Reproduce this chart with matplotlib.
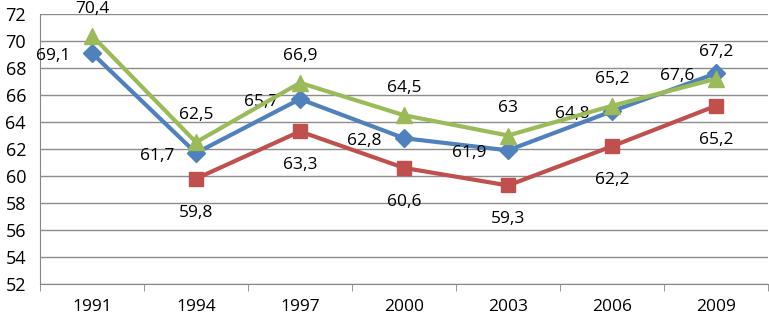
import numpy as np
import matplotlib.pyplot as plt

years = ['1991', '1994', '1997', '2000', '2003', '2006', '2009']
blue_vals = [69.1, 61.7, 65.7, 62.8, 61.9, 64.8, 67.6]
red_vals = [np.nan, 59.8, 63.3, 60.6, 59.3, 62.2, 65.2]
green_vals = [70.4, 62.5, 66.9, 64.5, 63.0, 65.2, 67.2]

plt.rcParams['font.family'] = ['Open Sans', 'DejaVu Sans']


def fmt(v):
    s = ('%.1f' % v).replace('.', ',')
    if s.endswith(',0'):
        s = s[:-2]
    return s


fig = plt.figure(figsize=(7.69, 3.17), dpi=100)
ax = fig.add_axes([40/769, 1-284/317, 728/769, 270/317])

x = np.arange(len(years))
ax.plot(x, blue_vals, color='#4F81BD', lw=3, marker='D', ms=9.5, zorder=3)
ax.plot(x, red_vals, color='#C0504D', lw=3, marker='s', ms=10.5, zorder=3)
ax.plot(x, green_vals, color='#9BBB59', lw=3, marker='^', ms=12, zorder=4)

fs = 12.5
for i in range(len(years)):
    ax.annotate(fmt(blue_vals[i]), (x[i], blue_vals[i]), xytext=(-22, -3),
                textcoords='offset pixels', ha='right', va='center',
                fontsize=fs, annotation_clip=False)
    ax.annotate(fmt(green_vals[i]), (x[i], green_vals[i]), xytext=(0, 19),
                textcoords='offset pixels', ha='center', va='bottom',
                fontsize=fs, annotation_clip=False)
    if not np.isnan(red_vals[i]):
        ax.annotate(fmt(red_vals[i]), (x[i], red_vals[i]), xytext=(0, -26),
                    textcoords='offset pixels', ha='center', va='top',
                    fontsize=fs, annotation_clip=False)

ax.set_xlim(-0.5, len(years) - 0.5)
ax.set_ylim(52, 72)
ax.set_yticks(np.arange(52, 73, 2))
ax.set_xticks(x)
ax.set_xticklabels(years)
ax.set_xticks(np.arange(-0.5, len(years)), minor=True)
ax.tick_params(axis='x', which='major', length=0, pad=11, labelsize=fs)
ax.tick_params(axis='x', which='minor', length=5, color='#868686')
ax.tick_params(axis='y', length=0, pad=10, labelsize=13)
ax.grid(axis='y', color='#8C8C8C', lw=1)
ax.set_axisbelow(True)
for s in ['top', 'right']:
    ax.spines[s].set_visible(False)
ax.spines['left'].set_color('#868686')
ax.spines['bottom'].set_color('#868686')

fig.savefig('out.png', dpi=100)
